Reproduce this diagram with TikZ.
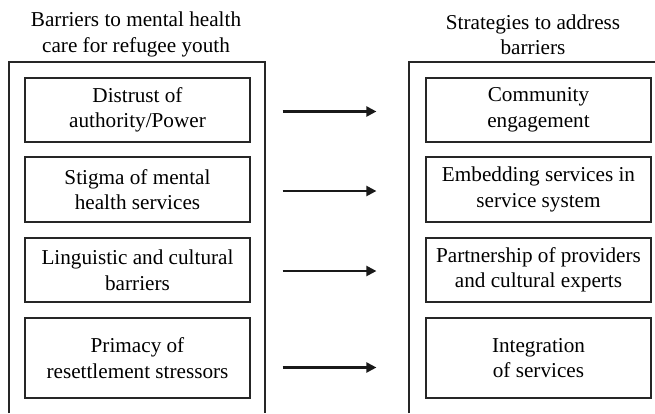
\documentclass[tikz,border=0pt]{standalone}
\usepackage{fontspec}
\setmainfont{Liberation Serif}
\usetikzlibrary{arrows.meta}
\begin{document}
\begin{tikzpicture}[x=1pt,y=-1pt,
  frame/.style={draw=black!85, line width=1.2pt},
  item/.style={draw=black!85, line width=1.2pt, minimum width=225pt, align=center, inner sep=0pt,
    font=\fontsize{21.2}{25.5}\selectfont},
  title/.style={align=center, font=\fontsize{21.2}{25.5}\selectfont, inner sep=0pt},
  arr/.style={line width=2.2pt, draw=black!90, -{Triangle[length=10pt,width=10pt]}}]
\useasboundingbox (0,0) rectangle (655,413);
% titles
\node[title] (t1) at (136,34.5) {Barriers to mental health\\care for refugee youth};
\node[title] (t2) at (533,34.5) {Strategies to address\\barriers};
% outer frames
\draw[frame] (9,413) -- (9,62) -- (265,62) -- (265,413);
\draw[frame] (409,413) -- (409,62) -- (656,62);
% left boxes
\node[item, minimum height=64pt] (b1) at (137.5,110) {Distrust of\\authority/Power};
\node[item, minimum height=65pt] (b2) at (137.5,189.5) {Stigma of mental\\health services};
\node[item, minimum height=64pt] (b3) at (137.5,270) {Linguistic and cultural\\barriers};
\node[item, minimum height=80pt] (b4) at (137.5,358) {Primacy of\\resettlement stressors};
% right boxes
\node[item, minimum height=64pt] (s1) at (538.5,110) {Community\\engagement};
\node[item, minimum height=65pt] (s2) at (538.5,189.5) {Embedding services in\\service system};
\node[item, minimum height=64pt] (s3) at (538.5,270) {Partnership of providers\\and cultural experts};
\node[item, minimum height=80pt] (s4) at (538.5,358) {Integration\\of services};
% arrows (yshift is in page direction: negative = downward)
\draw[arr] ([xshift=32pt,yshift=-1.5pt]b1.east) -- ([xshift=-49pt,yshift=-1.5pt]s1.west);
\draw[arr] ([xshift=32pt,yshift=-1.5pt]b2.east) -- ([xshift=-49pt,yshift=-1.5pt]s2.west);
\draw[arr] ([xshift=32pt,yshift=-1pt]b3.east) -- ([xshift=-49pt,yshift=-1pt]s3.west);
\draw[arr] ([xshift=32pt,yshift=-9.5pt]b4.east) -- ([xshift=-49pt,yshift=-9.5pt]s4.west);
\end{tikzpicture}
\end{document}
